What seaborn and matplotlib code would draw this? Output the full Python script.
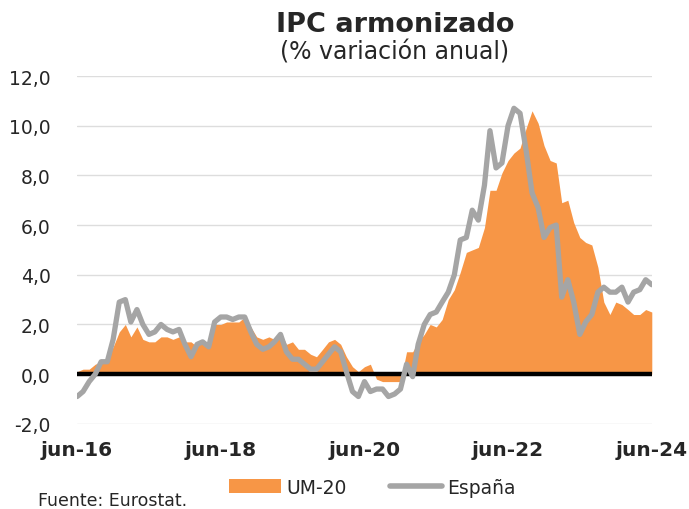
import numpy as np
import pandas as pd
import matplotlib
matplotlib.use("Agg")
import matplotlib.pyplot as plt
from matplotlib.patches import Patch
from matplotlib.lines import Line2D
import seaborn as sns

# Monthly data, jun-2016 .. jun-2024
months = pd.date_range("2016-06-01", "2024-06-01", freq="MS")

um20 = [0.1, 0.2, 0.2, 0.4, 0.5, 0.6, 1.1,
        1.7, 2.0, 1.5, 1.9, 1.4, 1.3, 1.3, 1.5, 1.5, 1.4, 1.5, 1.3,
        1.3, 1.1, 1.4, 1.2, 2.0, 2.0, 2.1, 2.1, 2.1, 2.3, 1.9, 1.5,
        1.4, 1.5, 1.4, 1.7, 1.2, 1.3, 1.0, 1.0, 0.8, 0.7, 1.0, 1.3,
        1.4, 1.2, 0.7, 0.3, 0.1, 0.3, 0.4, -0.2, -0.3, -0.3, -0.3, -0.3,
        0.9, 0.9, 1.3, 1.6, 2.0, 1.9, 2.2, 3.0, 3.4, 4.1, 4.9, 5.0,
        5.1, 5.9, 7.4, 7.4, 8.1, 8.6, 8.9, 9.1, 9.9, 10.6, 10.1, 9.2,
        8.6, 8.5, 6.9, 7.0, 6.1, 5.5, 5.3, 5.2, 4.3, 2.9, 2.4, 2.9,
        2.8, 2.6, 2.4, 2.4, 2.6, 2.5]

espana = [-0.9, -0.7, -0.3, 0.0, 0.5, 0.5, 1.4,
          2.9, 3.0, 2.1, 2.6, 2.0, 1.6, 1.7, 2.0, 1.8, 1.7, 1.8, 1.2,
          0.7, 1.2, 1.3, 1.1, 2.1, 2.3, 2.3, 2.2, 2.3, 2.3, 1.7, 1.2,
          1.0, 1.1, 1.3, 1.6, 0.9, 0.6, 0.6, 0.4, 0.2, 0.2, 0.5, 0.8,
          1.1, 0.9, 0.1, -0.7, -0.9, -0.3, -0.7, -0.6, -0.6, -0.9, -0.8, -0.6,
          0.4, -0.1, 1.2, 2.0, 2.4, 2.5, 2.9, 3.3, 4.0, 5.4, 5.5, 6.6,
          6.2, 7.6, 9.8, 8.3, 8.5, 10.0, 10.7, 10.5, 9.0, 7.3, 6.7, 5.5,
          5.9, 6.0, 3.1, 3.8, 2.9, 1.6, 2.1, 2.4, 3.3, 3.5, 3.3, 3.3,
          3.5, 2.9, 3.3, 3.4, 3.8, 3.6]

tick_dates = pd.to_datetime(["2016-06-01", "2018-06-01", "2020-06-01",
                             "2022-06-01", "2024-06-01"])
tick_labels = ["jun-16", "jun-18", "jun-20", "jun-22", "jun-24"]
y_ticks = [-2, 0, 2, 4, 6, 8, 10, 12]

df = pd.DataFrame({"fecha": months, "UM-20": um20, "España": espana})

sns.set_theme(style="white")
plt.rcParams["font.family"] = ["DejaVu Sans"]

ORANGE = "#F79646"
GRAY = "#A5A5A5"

fig = plt.figure(figsize=(6.89, 5.10), dpi=100)
ax = fig.add_axes([0.112, 0.167, 0.834, 0.682])

for y in y_ticks:
    if y != 0:
        ax.axhline(y, color="#DDDDDD", lw=1.0, zorder=0)

ax.fill_between(df["fecha"], 0, df["UM-20"], color=ORANGE, lw=0, zorder=1)
ax.axhline(0, color="black", lw=3.2, zorder=2)
sns.lineplot(data=df, x="fecha", y="España", color=GRAY, lw=3.8, ax=ax,
             zorder=3, solid_capstyle="round", solid_joinstyle="round")

ax.set_xlim(months[0], months[-1])
ax.set_ylim(-2, 12)
ax.set_yticks(y_ticks)
ax.set_yticklabels([f"{v:.1f}".replace(".", ",") for v in y_ticks], fontsize=13.5)
ax.set_xticks(tick_dates)
ax.set_xticklabels(tick_labels, fontsize=14.5, fontweight="bold")
ax.tick_params(axis="x", length=0, pad=12)
ax.tick_params(axis="y", length=0, pad=19)
ax.set_xlabel("")
ax.set_ylabel("")
for s in ax.spines.values():
    s.set_visible(False)

fig.text(0.573, 0.950, "IPC armonizado", ha="center", va="center",
         fontsize=19.5, fontweight="bold")
fig.text(0.573, 0.897, "(% variación anual)", ha="center", va="center",
         fontsize=17)

handles = [Patch(facecolor=ORANGE, edgecolor="none", label="UM-20"),
           Line2D([0], [0], color=GRAY, lw=4, solid_capstyle="round", label="España")]
fig.legend(handles=handles, loc="center", bbox_to_anchor=(0.54, 0.043),
           ncol=2, frameon=False, fontsize=13.5, handlelength=2.8,
           handletextpad=0.25, columnspacing=2.3)

fig.text(0.055, 0.018, "Fuente: Eurostat.", ha="left", va="center", fontsize=12.5)

fig.savefig("out.png", dpi=100)
